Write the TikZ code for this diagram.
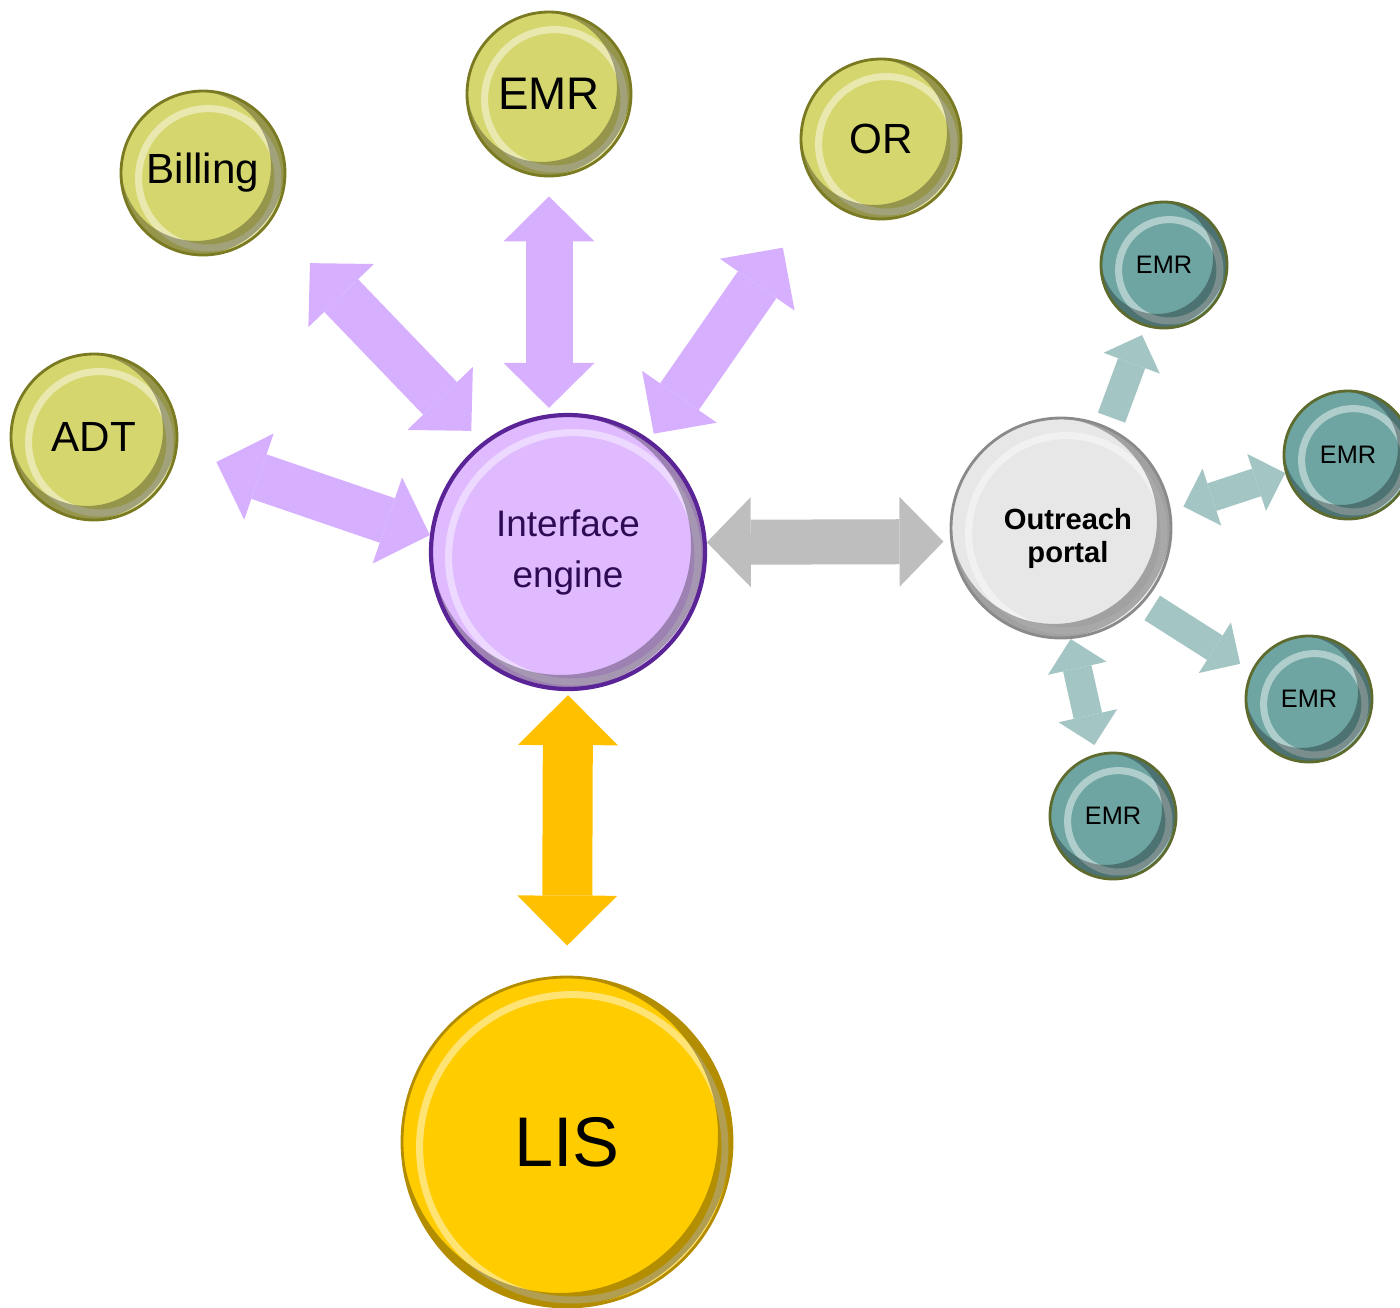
\documentclass[tikz,border=0pt]{standalone}
\usepackage{fontspec}
\setmainfont{Liberation Sans}
\usepackage{tikz}
\usetikzlibrary{arrows.meta, calc}

\definecolor{olivefill}{HTML}{D6D66E}
\definecolor{oliveline}{HTML}{7A7A22}
\definecolor{enginefill}{HTML}{E0BAFF}
\definecolor{engineline}{HTML}{5A2496}
\definecolor{enginetext}{HTML}{2E0A55}
\definecolor{linkpurple}{HTML}{D7AFFF}
\definecolor{linkgray}{HTML}{BEBEBE}
\definecolor{lisfill}{HTML}{FFCC00}
\definecolor{lisline}{HTML}{B48C00}
\definecolor{linkorange}{HTML}{FFC000}
\definecolor{portalfill}{HTML}{E7E7E7}
\definecolor{portalline}{HTML}{8A8A8A}
\definecolor{tealfill}{HTML}{6EA5A2}
\definecolor{tealline}{HTML}{5E6B2E}
\definecolor{linkteal}{HTML}{A3C5C3}

\begin{document}
\begin{tikzpicture}[
    ball/.style={circle, inner sep=0pt, line width=0.8pt, align=center,
        path picture={
          \draw[white, opacity=0.45, line width=2pt]
            let \p1=($(path picture bounding box.east)-(path picture bounding box.center)$) in
            ($(path picture bounding box.center)+(1.5pt,-1.5pt)$) circle[radius=\x1-3.5pt];
          \draw[black, opacity=0.3, line width=4pt]
            let \p1=($(path picture bounding box.east)-(path picture bounding box.center)$) in
            ($(path picture bounding box.center)+(-2pt,2pt)$) circle[radius=\x1];
        }},
    system/.style={ball, fill=olivefill, draw=oliveline, minimum size=1.64cm,
                   font=\fontsize{12}{14}\selectfont},
    remote/.style={ball, fill=tealfill, draw=tealline, minimum size=1.26cm,
                   font=\fontsize{7.2}{9}\selectfont},
    purplelink/.style={draw=linkpurple, line width=4.7mm,
                   >={Triangle[length=4.5mm, width=9.1mm, line width=0pt]}, <->},
    graylink/.style={draw=linkgray, line width=4.5mm,
                   >={Triangle[length=4.4mm, width=9mm, line width=0pt]}, <->},
    orangelink/.style={draw=linkorange, line width=5mm,
                   >={Triangle[length=5mm, width=10mm, line width=0pt]}, <->},
    teallink/.style={draw=linkteal, line width=2.9mm,
                   >={Triangle[length=3mm, width=6mm, line width=0pt]}}
]
\useasboundingbox (0,0) rectangle (14,-13.07);

% Hospital systems
\node[system] (billing) at (2.03,-1.73) {Billing};
\node[system, font=\fontsize{13}{15}\selectfont] (emr) at (5.49,-0.94) {EMR};
\node[system, minimum size=1.60cm] (or) at (8.81,-1.39) {OR};
\node[system, minimum size=1.66cm] (adt) at (0.94,-4.37) {ADT};

% Engine, portal and LIS
\node[ball, fill=enginefill, draw=engineline, line width=1.2pt, minimum size=2.74cm,
      text=enginetext, font=\fontsize{10.5}{14.5}\selectfont] (engine) at (5.68,-5.52) {Interface\\engine};
\node[ball, fill=portalfill, draw=portalline, minimum size=2.20cm,
      font=\bfseries\fontsize{8.3}{9.4}\selectfont] (portal) at (10.61,-5.28) {\rule{0pt}{4.2mm}\hspace*{1.4mm}Outreach\\\hspace*{1.4mm}portal};
\node[ball, fill=lisfill, draw=lisline, minimum size=3.30cm,
      font=\fontsize{20}{24}\selectfont] (lis) at (5.67,-11.42) {LIS};

% Outreach EMRs
\node[remote] (emrA) at (11.64,-2.65) {EMR};
\node[remote, minimum size=1.28cm] (emrB) at (13.48,-4.55) {EMR};
\node[remote] (emrC) at (13.09,-6.99) {EMR};
\node[remote] (emrD) at (11.13,-8.16) {EMR};

\draw[purplelink, shorten <=4.1mm] (adt.-8) -- (engine.173);
\draw[purplelink, shorten <=5.7mm, shorten >=1.6mm] (billing.-36) -- (engine.128);
\draw[purplelink, shorten <=1.9mm, shorten >=0.5mm] (emr.south) -- (emr.south |- engine.north);
\draw[purplelink, shorten <=6.6mm, shorten >=0.7mm] (or.222) -- (engine.54);
\draw[graylink, shorten >=0.7mm] (engine.4) -- (portal.187);
\draw[orangelink, shorten <=0.4mm, shorten >=3mm] (engine.south) -- (lis.north);
\draw[teallink, ->, shorten <=1mm, shorten >=0.9mm] (portal.65) -- (emrA.253);
\draw[teallink, <->, shorten <=1.3mm] (portal.9) -- (emrB.196);
\draw[teallink, ->, shorten <=1mm, shorten >=1.3mm] (portal.-42) -- (emrC.154);
\draw[teallink, <->, shorten >=0.9mm] (portal.275) -- (emrD.105);
\end{tikzpicture}
\end{document}
